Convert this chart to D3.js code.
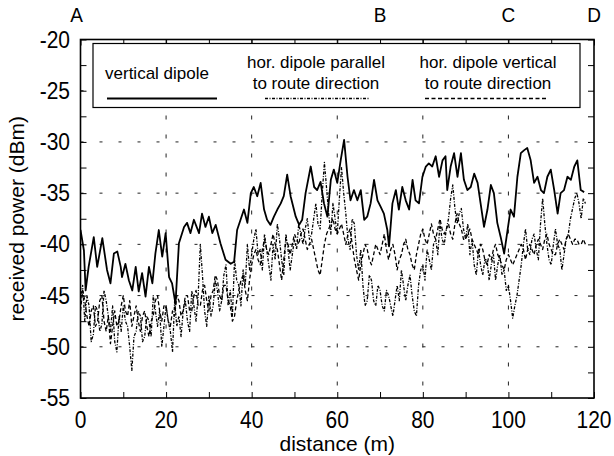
<!DOCTYPE html>
<html>
<head>
<meta charset="utf-8">
<script src="https://cdn.jsdelivr.net/npm/d3@7"></script>
<style>
  body { margin: 0; background: #fff; }
  svg { display: block; }
  text { font-family: "Liberation Sans", Arial, sans-serif; fill: #000; }
</style>
</head>
<body>
<script>
// tick labels and markers
var xTicks = [0, 20, 40, 60, 80, 100, 120];
var yTicks = [-20, -25, -30, -35, -40, -45, -50, -55];
var markers = ["A", "B", "C", "D"];
var markerPos = [0, 70, 100, 120];

// vertical dipole (solid)
var vertD = [0,0.8,1.2,1.9,3.1,3.9,5.1,6.2,7.0,7.8,8.6,9.4,9.7,10.5,11.3,12.1,12.9,13.6,14.4,15.2,16.0,16.8,17.5,18.3,19.1,19.9,20.7,21.4,22.2,23.0,24.2,24.9,25.7,26.5,27.7,28.4,29.2,30.0,30.8,31.6,32.7,33.9,35.1,35.9,36.6,37.4,38.2,39.0,39.8,40.5,41.3,42.1,42.9,43.6,44.4,45.2,46.0,46.8,47.5,48.3,49.1,50.3,51.1,51.8,52.6,53.8,54.6,55.3,56.1,56.9,57.7,58.5,59.2,60.0,60.8,61.6,62.4,63.1,63.9,64.7,65.5,66.3,67.0,67.8,68.6,69.4,70.1,70.9,71.7,72.1,72.9,73.7,74.4,75.2,76.0,76.8,77.6,78.3,79.1,79.9,80.7,81.4,82.2,83.0,83.8,84.6,85.3,85.7,86.5,87.3,88.1,88.9,89.6,90.4,91.2,92.0,92.8,93.5,94.3,95.1,95.9,96.6,97.4,98.2,99.0,99.8,100.5,101.3,102.1,102.9,103.7,104.4,105.2,106.0,106.8,107.6,108.3,109.1,109.9,110.7,111.5,112.2,113.0,113.8,114.6,115.4,116.1,116.9,117.7];
var vertP = [-38.6,-40.6,-44.5,-42.2,-39.3,-42.2,-39.4,-42.5,-43.8,-40.9,-40.7,-42.2,-43.2,-41.9,-43.5,-44.5,-42.2,-44.6,-42.8,-45.1,-42.2,-43.8,-40.9,-38.6,-41.2,-38.9,-43.2,-43.8,-45.8,-39.9,-38.3,-37.9,-38.9,-37.6,-38.9,-37.0,-38.3,-37.3,-38.9,-38.1,-39.9,-41.5,-41.9,-41.7,-38.6,-37.6,-36.6,-37.9,-35.0,-34.4,-35.3,-34.0,-36.6,-37.6,-38.1,-37.3,-36.6,-36.0,-35.3,-33.2,-35.3,-37.3,-38.1,-37.6,-35.0,-32.4,-34.4,-34.7,-33.9,-36.0,-37.3,-33.7,-32.7,-34.0,-31.8,-29.8,-33.4,-35.7,-34.7,-35.7,-34.7,-37.6,-37.3,-36.0,-33.7,-35.7,-36.3,-37.0,-38.6,-40.2,-36.0,-34.7,-36.6,-34.4,-35.7,-36.6,-33.7,-35.7,-36.0,-33.4,-32.4,-32.1,-32.4,-31.4,-33.4,-31.8,-31.4,-34.7,-32.4,-31.1,-33.4,-31.1,-33.7,-34.7,-34.4,-33.1,-34.0,-36.0,-38.3,-36.6,-34.2,-35.0,-37.9,-39.3,-40.9,-38.6,-36.6,-37.3,-33.4,-31.1,-30.8,-30.6,-31.8,-34.0,-33.4,-34.7,-35.0,-33.4,-32.7,-34.7,-37.0,-35.0,-34.7,-33.4,-33.7,-32.4,-31.8,-34.7,-34.9];

// both horizontal dipoles, read every half metre
var halfD = d3.range(0, 118.01, 0.5);

// hor. dipole parallel to route direction (dash-dot)
var parP = [
  -45.5,-44.0,-47.5,-45.0,-46.0,-49.5,-48.8,-46.0,-46.5,-48.5,-47.8,-44.5,-45.5,-47.0,-48.5,-46.0,-49.5,-50.5,-47.0,-48.5,
  -46.0,-47.5,-48.0,-50.0,-52.3,-49.0,-48.5,-46.5,-47.0,-49.5,-49.0,-47.0,-47.5,-49.0,-45.0,-46.5,-48.0,-46.5,-50.0,-48.0,
  -46.0,-47.5,-48.5,-50.5,-45.5,-48.0,-47.0,-49.0,-46.5,-45.5,-47.5,-48.5,-44.5,-46.0,-47.5,-45.0,-40.0,-43.0,-46.5,-48.0,
  -45.0,-47.0,-46.0,-43.5,-44.5,-46.5,-45.5,-43.0,-42.0,-46.0,-44.5,-47.0,-41.5,-43.5,-44.0,-46.0,-42.5,-44.0,-40.0,-42.5,
  -41.0,-39.5,-38.5,-41.0,-40.5,-42.5,-39.0,-40.5,-42.0,-43.5,-40.0,-41.5,-38.0,-39.5,-41.5,-43.0,-39.0,-40.5,-42.5,-41.0,
  -39.5,-40.5,-38.0,-39.0,-40.0,-38.5,-37.5,-39.5,-39.0,-37.5,-36.0,-38.0,-38.5,-35.0,-32.0,-34.5,-37.0,-39.0,-36.0,-37.5,
  -39.0,-35.5,-32.5,-35.0,-37.0,-39.5,-40.5,-37.5,-38.0,-41.0,-42.5,-40.5,-44.0,-46.0,-45.5,-43.0,-43.5,-45.5,-46.0,-44.0,
  -44.5,-46.0,-46.5,-44.5,-45.0,-46.0,-47.0,-45.5,-44.0,-45.5,-42.5,-44.0,-45.5,-44.0,-43.0,-45.0,-46.5,-47.0,-44.0,-42.5,
  -42.0,-43.5,-40.5,-41.5,-42.5,-40.0,-39.5,-41.0,-38.0,-39.5,-40.0,-38.5,-37.5,-35.5,-34.2,-36.5,-38.0,-37.0,-36.5,-38.5,
  -39.5,-38.0,-41.0,-39.5,-42.0,-43.0,-40.5,-42.0,-43.0,-41.5,-41.5,-43.5,-42.0,-41.0,-43.5,-42.0,-41.0,-43.0,-42.5,-44.5,
  -44.0,-45.5,-47.2,-46.0,-45.0,-43.5,-42.0,-40.0,-38.5,-40.5,-41.0,-39.5,-39.0,-40.5,-41.5,-38.0,-35.5,-38.0,-40.0,-41.5,
  -42.0,-40.0,-38.5,-40.0,-40.5,-42.5,-41.0,-39.5,-39.0,-37.5,-36.5,-35.5,-35.0,-36.0,-37.5,-35.5,
  -36.0];

// hor. dipole vertical to route direction (dashed)
var crossP = [
  -46.5,-44.5,-45.5,-47.0,-48.0,-46.5,-46.0,-48.0,-47.5,-45.5,-45.0,-47.5,-48.5,-47.0,-49.7,-48.0,-46.5,-48.0,-47.5,-46.0,
  -45.0,-46.5,-47.0,-45.5,-48.0,-47.0,-46.0,-47.5,-48.5,-47.0,-46.5,-48.0,-49.0,-47.5,-47.0,-45.5,-45.0,-46.5,-47.5,-46.0,
  -46.0,-47.5,-48.0,-46.5,-47.0,-45.0,-45.5,-47.0,-46.5,-45.0,-45.0,-46.5,-46.5,-45.0,-44.5,-46.0,-46.0,-44.5,-44.0,-45.5,
  -46.5,-45.0,-44.5,-43.0,-43.5,-45.0,-45.5,-44.0,-44.0,-45.5,-46.0,-47.5,-47.0,-45.5,-44.5,-43.5,-43.0,-44.5,-45.5,-43.5,
  -42.0,-41.0,-40.5,-41.5,-42.0,-40.5,-39.5,-40.5,-41.0,-40.0,-39.0,-40.0,-40.5,-42.0,-43.5,-41.5,-39.5,-40.0,-41.0,-40.0,
  -39.0,-39.5,-40.0,-39.0,-38.5,-39.5,-40.5,-40.0,-39.5,-40.5,-41.5,-42.5,-43.0,-41.5,-40.0,-39.0,-38.5,-38.0,-37.5,-38.5,
  -39.0,-38.5,-38.0,-39.0,-40.0,-39.0,-38.5,-40.0,-41.5,-42.5,-43.5,-42.0,-41.0,-40.0,-40.5,-41.5,-42.0,-41.0,-40.0,-40.5,
  -41.0,-40.0,-39.0,-40.5,-41.5,-40.5,-40.0,-41.0,-42.5,-41.5,-41.0,-40.0,-39.5,-40.5,-41.0,-42.0,-42.5,-41.0,-40.0,-39.0,
  -38.5,-39.5,-40.0,-39.0,-38.0,-39.0,-39.5,-38.5,-37.5,-38.5,-39.0,-38.5,-38.0,-39.0,-39.5,-38.0,-37.0,-38.0,-38.5,-39.5,
  -39.5,-39.0,-38.5,-39.5,-40.0,-40.5,-41.0,-40.0,-40.5,-41.5,-42.0,-41.0,-41.5,-40.5,-40.0,-41.0,-41.5,-42.0,-42.5,-41.5,
  -41.0,-41.5,-42.0,-41.5,-41.0,-40.5,-40.0,-40.5,-41.5,-40.5,-40.0,-40.5,-41.0,-40.0,-39.5,-40.0,-40.5,-39.5,-39.0,-40.0,
  -40.5,-41.0,-41.0,-40.0,-39.5,-40.0,-40.5,-39.5,-39.0,-39.5,-40.0,-39.5,-39.5,-40.0,-40.0,-39.5,
  -40.0];

var width = 614, height = 456;
var margin = { top: 39.5, right: 20, bottom: 58, left: 80.5 };

var svg = d3.select("body").append("svg")
    .attr("width", width)
    .attr("height", height);

var x = d3.scaleLinear().domain([0, 120]).range([margin.left, width - margin.right]);
var y = d3.scaleLinear().domain([-55, -20]).range([height - margin.bottom, margin.top]);

// dotted grid
svg.append("g").selectAll("line")
    .data(yTicks.slice(1, -1))
    .enter().append("line")
    .attr("x1", x(0)).attr("x2", x(120))
    .attr("y1", function (d) { return y(d); })
    .attr("y2", function (d) { return y(d); })
    .attr("stroke", "#222").attr("stroke-width", 1)
    .attr("stroke-dasharray", "3,16");

svg.append("g").selectAll("line")
    .data(xTicks.slice(1, -1))
    .enter().append("line")
    .attr("y1", y(-20)).attr("y2", y(-55))
    .attr("x1", function (d) { return x(d); })
    .attr("x2", function (d) { return x(d); })
    .attr("stroke", "#222").attr("stroke-width", 1)
    .attr("stroke-dasharray", "4,15");

// inward ticks on all four sides
var axisB = d3.axisBottom(x).tickValues(d3.range(0, 121, 10)).tickSize(-6).tickFormat("");
var axisT = d3.axisTop(x).tickValues(d3.range(0, 121, 10)).tickSize(-6).tickFormat("");
var axisL = d3.axisLeft(y).tickValues(d3.range(-55, -19, 2.5)).tickSize(-6).tickFormat("");
var axisR = d3.axisRight(y).tickValues(d3.range(-55, -19, 2.5)).tickSize(-6).tickFormat("");
[[axisB, "translate(0," + y(-55) + ")"], [axisT, "translate(0," + y(-20) + ")"],
 [axisL, "translate(" + x(0) + ",0)"], [axisR, "translate(" + x(120) + ",0)"]].forEach(function (a) {
    var g = svg.append("g").attr("transform", a[1]).call(a[0]);
    g.select(".domain").remove();
    g.selectAll("line").attr("stroke", "#000");
});

// curves
svg.append("clipPath").attr("id", "plot")
    .append("rect")
    .attr("x", x(0)).attr("y", y(-20))
    .attr("width", x(120) - x(0)).attr("height", y(-55) - y(-20));

var line = d3.line()
    .x(function (d) { return x(d[0]); })
    .y(function (d) { return y(d[1]); });

var series = [
    { d: halfD, p: crossP, dash: "4,2.5", w: 1.3 },
    { d: halfD, p: parP, dash: "3,1.5,1,1.5", w: 1.3 },
    { d: vertD, p: vertP, dash: null, w: 1.8 }
];

series.forEach(function (s) {
    svg.append("path")
        .attr("clip-path", "url(#plot)")
        .attr("d", line(d3.zip(s.d, s.p)))
        .attr("fill", "none")
        .attr("stroke", "#000")
        .attr("stroke-width", s.w)
        .attr("stroke-dasharray", s.dash)
        .attr("stroke-linejoin", "round");
});

// frame
svg.append("rect")
    .attr("x", x(0)).attr("y", y(-20))
    .attr("width", x(120) - x(0)).attr("height", y(-55) - y(-20))
    .attr("fill", "none").attr("stroke", "#000").attr("stroke-width", 1.6);

// tick labels (the scanned digits are a bit taller than Arial)
svg.append("g").selectAll("text")
    .data(xTicks)
    .enter().append("text")
    .attr("transform", function (d) { return "translate(" + x(d) + ",428) scale(1,1.12)"; })
    .attr("text-anchor", "middle")
    .style("font-size", "21px")
    .text(function (d) { return d; });

svg.append("g").selectAll("text")
    .data(yTicks)
    .enter().append("text")
    .attr("transform", function (d) { return "translate(70," + (y(d) + 8) + ") scale(1,1.12)"; })
    .attr("text-anchor", "end")
    .style("font-size", "21px")
    .text(function (d) { return d; });

// A B C D markers above the frame
svg.append("g").selectAll("text")
    .data(markers)
    .enter().append("text")
    .attr("transform", function (d, i) {
        return "translate(" + (x(markerPos[i]) - (i == 0 ? 4 : 0)) + ",22) scale(1,1.1)";
    })
    .attr("text-anchor", "middle")
    .style("font-size", "19px")
    .text(function (d) { return d; });

// axis titles
svg.append("text")
    .attr("x", (x(0) + x(120)) / 2)
    .attr("y", 451)
    .attr("text-anchor", "middle")
    .style("font-size", "21px")
    .text("distance (m)");

svg.append("text")
    .attr("transform", "translate(24," + (y(-37.5)) + ") rotate(-90)")
    .attr("text-anchor", "middle")
    .style("font-size", "21px")
    .text("received power (dBm)");

// legend
var leg = svg.append("g");
leg.append("rect")
    .attr("x", 93).attr("y", 43.5)
    .attr("width", 487).attr("height", 64)
    .attr("fill", "#fff").attr("stroke", "#000").attr("stroke-width", 1.2);

var legItems = [
    { lines: ["vertical dipole"], cx: 157, x1: 107, x2: 217, dash: null, w: 1.8 },
    { lines: ["hor. dipole parallel", "to route direction"], cx: 316, x1: 265, x2: 370, dash: "3,1.5,1,1.5", w: 1.3 },
    { lines: ["hor. dipole vertical", "to route direction"], cx: 488, x1: 425, x2: 548, dash: "4,2.5", w: 1.3 }
];

legItems.forEach(function (it) {
    if (it.lines.length == 1) {
        leg.append("text").attr("x", it.cx).attr("y", 79)
            .attr("text-anchor", "middle").style("font-size", "17px").text(it.lines[0]);
    } else {
        leg.append("text").attr("x", it.cx).attr("y", 68)
            .attr("text-anchor", "middle").style("font-size", "17px").text(it.lines[0]);
        leg.append("text").attr("x", it.cx).attr("y", 89)
            .attr("text-anchor", "middle").style("font-size", "17px").text(it.lines[1]);
    }
    leg.append("line")
        .attr("x1", it.x1).attr("x2", it.x2)
        .attr("y1", 98.5).attr("y2", 98.5)
        .attr("stroke", "#000").attr("stroke-width", it.w)
        .attr("stroke-dasharray", it.dash);
});
</script>
</body>
</html>
